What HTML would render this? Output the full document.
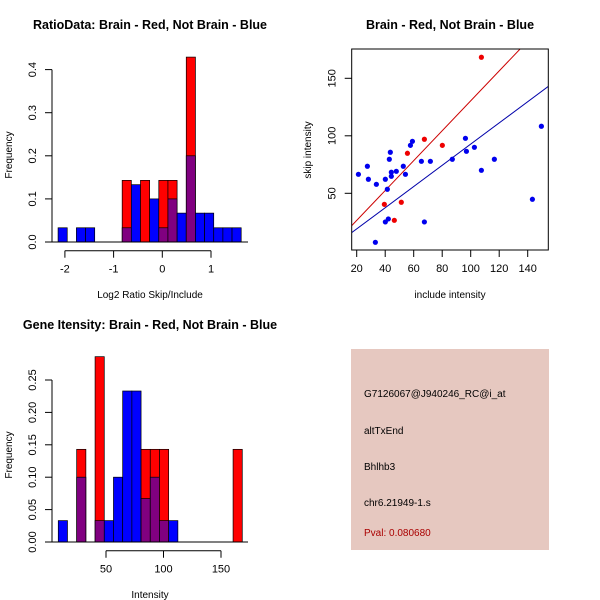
<!DOCTYPE html>
<html><head><meta charset="utf-8"><style>
body{margin:0;background:#fff}
svg{display:block;font-family:"Liberation Sans",sans-serif}
</style></head><body>
<svg id="c" width="600" height="600" viewBox="0 0 600 600"></svg>
<script>
// ---- Data: ratio histogram ----
const ratioBlue=[0.033,0,0.033,0.033,0,0,0,0.033,0.133,0,0.1,0.033,0.1,0.067,0.2,0.067,0.067,0.033,0.033,0.033];
const ratioRed=[0,0,0,0,0,0,0,0.143,0,0.143,0,0.143,0.143,0,0.429,0,0,0,0,0];
const ratioStart=-2.14, ratioWidth=0.188;
const ratioXTicks=[-2,-1,0,1];
const ratioYTicks=[0,0.1,0.2,0.3,0.4];
const ratioYLabels=["0.0","0.1","0.2","0.3","0.4"];
// ---- Data: intensity histogram ----
const intBlue=[0.033,0,0.1,0,0.033,0.033,0.1,0.233,0.233,0.067,0.1,0.033,0.033,0,0,0,0,0,0,0];
const intRed=[0,0,0.143,0,0.286,0,0,0,0,0.143,0.143,0.143,0,0,0,0,0,0,0,0.143];
const intStart=8.5, intWidth=8;
const intXTicks=[50,100,150];
const intYTicks=[0,0.05,0.1,0.15,0.2,0.25];
const intYLabels=["0.00","0.05","0.10","0.15","0.20","0.25"];
// ---- Data: scatter ----
const blueX=[21.2,27.5,28.2,33.8,33.1,40.1,40.1,42.2,41.5,42.9,43.6,44.3,44.3,47.8,52.7,54.2,57.7,59.1,65.4,71.7,67.5,87.1,96.3,97.0,102.6,107.5,116.6,143.3,149.6];
const blueY=[66.5,73.5,62.2,57.8,7.4,62.2,25.1,27.7,53.5,79.6,85.7,68.3,64.8,69.1,73.5,66.5,91.7,95.2,77.8,77.8,25.1,79.6,97.8,86.5,90.0,70.0,79.6,44.8,108.3];
const redX=[39.4,46.4,51.3,55.6,67.5,80.1,107.5];
const redY=[40.4,26.5,42.2,84.8,97.0,91.7,168.3];
const redFit=[0.4,1.30];
const blueFit=[0.6,0.922];
const scXTicks=[20,40,60,80,100,120,140];
const scYTicks=[50,100,150];

const NS="http://www.w3.org/2000/svg";
const svg=document.getElementById('c');
function el(tag,attrs,parent){const e=document.createElementNS(NS,tag);for(const k in attrs)e.setAttribute(k,attrs[k]);(parent||svg).appendChild(e);return e;}
function txt(x,y,s,attrs,parent){const e=el('text',Object.assign({x:x,y:y,'font-size':11,'text-anchor':'middle',fill:'#000'},attrs||{}),parent);e.textContent=s;return e;}

function hist(o){
  const g=el('g',{});
  
  
  const sx=v=>o.x0px+(v-o.x0)*o.kx, sy=v=>o.y0px-v*o.ky;
  for(let i=0;i<o.blue.length;i++){
    const b=o.blue[i], r=o.red[i];
    const x1=sx(o.start+i*o.w), x2=sx(o.start+(i+1)*o.w);
    const top=Math.max(b,r), mn=Math.min(b,r);
    if(top<=0)continue;
    const c=r>=b?'#ff0000':'#0000ff';
    const rb=el('rect',{x:x1,y:sy(top),width:x2-x1,height:sy(0)-sy(top),fill:c,stroke:'#000','stroke-width':0.7},g);
    
    
    if(mn>0){
      const pb=el('rect',{x:x1,y:sy(mn),width:x2-x1,height:sy(0)-sy(mn),fill:'#800080',stroke:'#000','stroke-width':0.7},g);
      
      
    }
  }
  el('line',{x1:52,x2:248,y1:o.y0px,y2:o.y0px,stroke:'#000'},g);
  const ax=el('g',{},g);
  
  
  const xa=o.y0px+8.7;
  el('line',{x1:sx(o.xt[0]),x2:sx(o.xt[o.xt.length-1]),y1:xa,y2:xa,stroke:'#000'},ax);
  o.xt.forEach(t=>{el('line',{x1:sx(t),x2:sx(t),y1:xa,y2:xa+7,stroke:'#000'},ax);txt(sx(t),xa+22,String(t),{},ax);});
  const ay=el('g',{},g);
  
  
  el('line',{x1:52,x2:52,y1:sy(o.yt[0]),y2:sy(o.yt[o.yt.length-1]),stroke:'#000'},ay);
  o.yt.forEach((t,i)=>{el('line',{x1:45,x2:52,y1:sy(t),y2:sy(t),stroke:'#000'},ay);
    txt(36,sy(t),o.yl[i],{transform:'rotate(-90 36 '+sy(t)+')'},ay);});
  const yl=txt(12,o.y0px-87,'Frequency',{transform:'rotate(-90 12 '+(o.y0px-87)+')','font-size':10});
  
  
  const xl=txt(150,o.xlabY,o.xlab,{'font-size':10});
  
  
  const tt=txt(150,o.titleY,o.title,{'font-size':12.5,'font-weight':'bold'});
  
  
}
hist({name:'ratio-histogram',blue:ratioBlue,red:ratioRed,start:ratioStart,w:ratioWidth,x0:0,x0px:162.3,kx:48.7,y0px:242,ky:431,xt:ratioXTicks,yt:ratioYTicks,yl:ratioYLabels,xlab:'Log2 Ratio Skip/Include',xlabY:298,title:'RatioData: Brain - Red, Not Brain - Blue',titleY:29});
hist({name:'intensity-histogram',blue:intBlue,red:intRed,start:intStart,w:intWidth,x0:50,x0px:106,kx:1.15,y0px:542,ky:648,xt:intXTicks,yt:intYTicks,yl:intYLabels,xlab:'Intensity',xlabY:598,title:'Gene Itensity: Brain - Red, Not Brain - Blue',titleY:329});

(function(){
  const g=el('g',{});
  
  
  const sx=v=>356.7+(v-20)*1.425, sy=v=>193.3-(v-50)*1.15;
  const L=351.7,R=548.3,T=49,B=250;
  const cp=el('clipPath',{id:'clp'},g);el('rect',{x:L,y:T,width:R-L,height:B-T},cp);
  [[redFit,'#cc0000','red-fit-line'],[blueFit,'#0000aa','blue-fit-line']].forEach(([f,c,n])=>{
    const xa=(L-356.7)/1.425+20, xb=(R-356.7)/1.425+20;
    const ln=el('line',{x1:sx(xa),y1:sy(f[0]+f[1]*xa),x2:sx(xb),y2:sy(f[0]+f[1]*xb),stroke:c,'stroke-width':1,'clip-path':'url(#clp)'},g);
    
    
  });
  blueX.forEach((x,i)=>{const p=el('circle',{cx:sx(x),cy:sy(blueY[i]),r:2.6,fill:'#0000ee'},g);
    
    });
  redX.forEach((x,i)=>{const p=el('circle',{cx:sx(x),cy:sy(redY[i]),r:2.6,fill:'#ee0000'},g);
    
    });
  el('rect',{x:L,y:T,width:R-L,height:B-T,fill:'none',stroke:'#000'},g);
  scXTicks.forEach(t=>{el('line',{x1:sx(t),x2:sx(t),y1:B,y2:B+7,stroke:'#000'},g);txt(sx(t),B+22,String(t),{},g);});
  scYTicks.forEach(t=>{el('line',{x1:L-7,x2:L,y1:sy(t),y2:sy(t),stroke:'#000'},g);txt(L-16,sy(t),String(t),{transform:'rotate(-90 '+(L-16)+' '+sy(t)+')'},g);});
  const xl=txt(450,298,'include intensity',{'font-size':10});
  
  
  const yl=txt(311,150,'skip intensity',{'font-size':10,transform:'rotate(-90 311 150)'});
  
  
  const tt=txt(450,29,'Brain - Red, Not Brain - Blue',{'font-size':12.5,'font-weight':'bold'});
  
  
})();

(function(){
  const g=el('g',{});
  
  
  el('rect',{x:351,y:349,width:198,height:201,fill:'#e6c8c0'},g);
  const lines=[['G7126067@J940246_RC@i_at',397,'#000'],['altTxEnd',434,'#000'],['Bhlhb3',470,'#000'],['chr6.21949-1.s',506,'#000'],['Pval: 0.080680',536,'#aa0000']];
  lines.forEach(([s,y,c],i)=>{const t=txt(364,y,s,{'text-anchor':'start','font-size':10,fill:c},g);
    
    });
})();
</script>
</body></html>
